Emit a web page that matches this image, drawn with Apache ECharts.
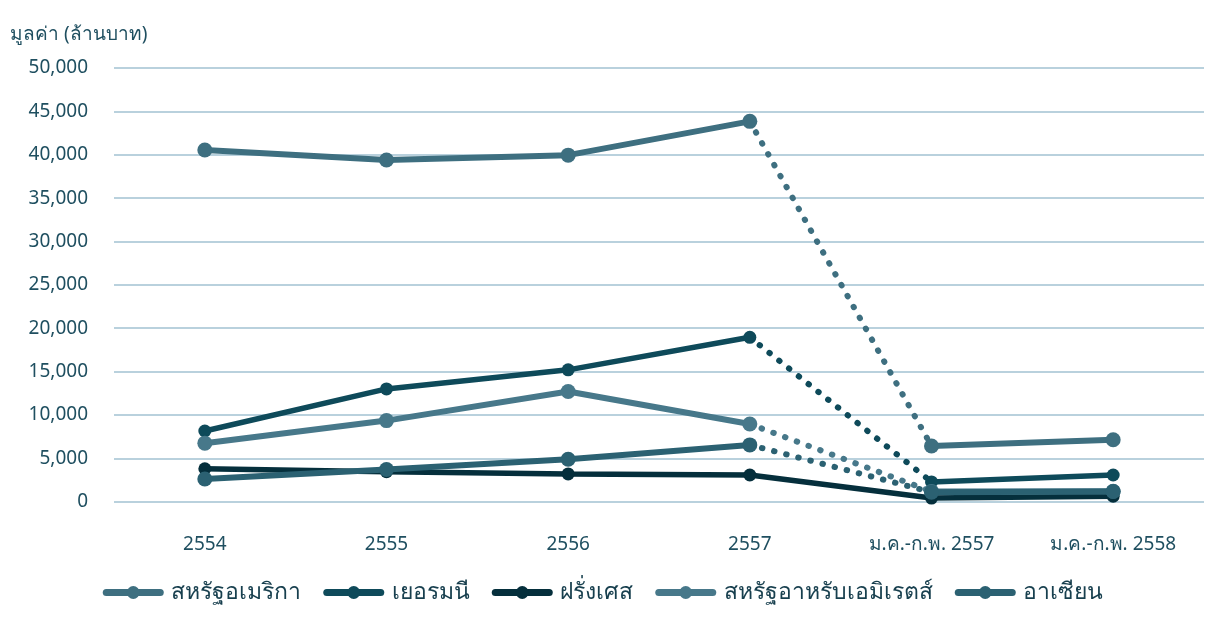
<!DOCTYPE html>
<html><head><meta charset="utf-8">
<script src="https://cdn.jsdelivr.net/npm/echarts@6/dist/echarts.min.js"></script>
<style>html,body{margin:0;padding:0;background:#fff}#c{width:1206px;height:623px}</style>
</head><body><div id="c"></div>
<script>
const categories = ['2554','2555','2556','2557','ม.ค.-ก.พ. 2557','ม.ค.-ก.พ. 2558'];
const seriesNames = ['สหรัฐอเมริกา','เยอรมนี','ฝรั่งเศส','สหรัฐอาหรับเอมิเรตส์','อาเซียน'];
const usa     = [40550, 39400, 39950, 43850, 6420, 7150];
const germany = [8150, 13000, 15200, 18950, 2280, 3080];
const france  = [3800, 3450, 3200, 3080, 420, 640];
const uae     = [6750, 9350, 12700, 8950, 1180, 1200];
const asean   = [2620, 3720, 4900, 6550, 1100, 1180];
const yTicks = {min:0, max:50000, interval:5000};
const colors = ['#3e6f80','#0e4a5a','#052f3c','#47788a','#2b6172'];
const values = [usa, germany, france, uae, asean];
const dotted = [true, true, false, true, true];
const font = "Tahoma, 'Noto Sans', 'Open Sans', sans-serif";

const series = [];
values.forEach((v, i) => {
  const c = colors[i];
  const dark = (i === 1 || i === 2);
  const sz = dark ? 13 : 15;
  const lw = dark ? 5.5 : 6;
  const base = {name: seriesNames[i], type:'line', color:c, symbol:'circle', symbolSize:sz,
    lineStyle:{width:lw, color:c}, itemStyle:{color:c}, animation:false, z:2+i};
  if (!dotted[i]) {
    series.push(Object.assign({}, base, {data: v}));
  } else {
    series.push(Object.assign({}, base, {data: v.map((x,k)=> k<4 ? x : '-')}));
    series.push(Object.assign({}, base, {data: v.map((x,k)=> k>=4 ? x : '-')}));
    series.push(Object.assign({}, base, {data: v.map((x,k)=> (k===3||k===4) ? x : '-'),
      showSymbol:false, symbol:'none', z:1,
      lineStyle:{width:6, color:c, type:[0.5,12], cap:'round'}}));
  }
});

const chart = echarts.init(document.getElementById('c'));
chart.setOption({
  animation:false,
  grid:{left:114, right:2, top:68, bottom:121.3},
  legend:{data:seriesNames, left:'center', bottom:14, itemWidth:54, itemHeight:16, itemGap:22,
    lineStyle:{width:7, cap:'round'},
    textStyle:{fontSize:23, color:'#173f4e', fontFamily:font, padding:[0,0,0,6]}},
  xAxis:{type:'category', data:categories, boundaryGap:true,
    axisLine:{show:false}, axisTick:{show:false},
    axisLabel:{fontSize:19, color:'#1f4f60', margin:33, fontFamily:font}},
  yAxis:{type:'value', min:yTicks.min, max:yTicks.max, interval:yTicks.interval,
    name:'มูลค่า (ล้านบาท)', nameLocation:'end', nameGap:24,
    nameTextStyle:{fontSize:19, color:'#1f4f60', align:'left', padding:[0,0,0,-104], fontFamily:font},
    axisLine:{show:false}, axisTick:{show:false},
    axisLabel:{fontSize:19, color:'#1f4f60', margin:26, fontFamily:font,
      formatter: v => v.toLocaleString('en-US')},
    splitLine:{lineStyle:{color:'#b9d1dd', width:2}}},
  series: series
});
</script></body></html>
